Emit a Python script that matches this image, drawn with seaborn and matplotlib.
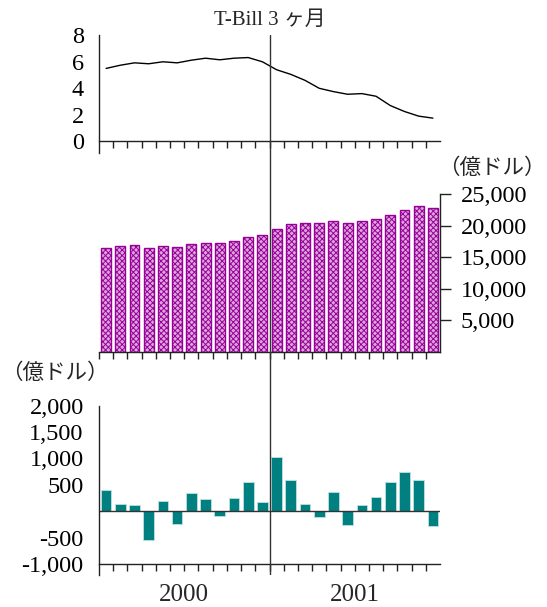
import matplotlib
matplotlib.use("Agg")
import matplotlib.pyplot as plt
from matplotlib.ticker import FixedLocator, FuncFormatter, NullLocator
import seaborn as sns
import pandas as pd

# データ（2000年1月〜2001年12月、月次）
months = [f"{y}-{m:02d}" for y in (2000, 2001) for m in range(1, 13)]
tbill = [5.48, 5.72, 5.90, 5.83, 5.98, 5.90, 6.10, 6.25, 6.13, 6.25, 6.30, 5.98,
         5.38, 5.03, 4.58, 3.98, 3.73, 3.53, 3.58, 3.38, 2.68, 2.23, 1.88, 1.73]
level = [16500, 16770, 16930, 16460, 16770, 16560, 17040, 17250, 17250, 17560, 18200, 18460,
         19520, 20250, 20410, 20410, 20730, 20460, 20730, 21040, 21680, 22420, 23100, 22840]
change = [410, 145, 126, -549, 189, -240, 347, 233, -95, 259, 555, 170,
          1034, 593, 139, -113, 359, -252, 113, 277, 549, 744, 599, -271]
years = ["2000", "2001"]
top_ticks = [0, 2, 4, 6, 8]
mid_ticks = [5000, 10000, 15000, 20000, 25000]
bot_ticks = [-1000, -500, 500, 1000, 1500, 2000]

df = pd.DataFrame({"month": months, "idx": range(len(months)),
                   "tbill": tbill, "level": level, "change": change})

sns.set_theme(style="white")
plt.rcParams["font.family"] = ["Liberation Serif", "Noto Sans CJK JP"]
plt.rcParams["axes.unicode_minus"] = False
plt.rcParams["hatch.linewidth"] = 0.7

W, H = 547, 607
fig = plt.figure(figsize=(W / 100, H / 100), dpi=100)


def box(l, t, r, b):
    return [l / W, 1 - b / H, (r - l) / W, (b - t) / H]


ink = "#222222"
comma = FuncFormatter(lambda v, p: f"{int(v):,}")
n = len(months)
bounds = [i - 0.5 for i in range(n)]
tick_fs = 17.5

# 上段: T-Bill 3ヶ月
ax1 = fig.add_axes(box(99, 35, 440, 153))
sns.lineplot(data=df, x="idx", y="tbill", color="black", lw=1.0, ax=ax1)
ax1.set_xlim(-0.5, n - 0.5)
ax1.set_ylim(-0.9, 8)
ax1.spines["bottom"].set_position(("data", 0))

# 中段: 残高（ハッチ付き棒）
ax2 = fig.add_axes(box(99, 194, 440, 352))
sns.barplot(data=df, x="month", y="level", color="#dba6db", edgecolor="#990099",
            hatch="xxxxxx", linewidth=1.0, width=0.7, saturation=1, ax=ax2)
ax2.set_xlim(-0.5, n - 0.5)
ax2.set_ylim(0, 25000)
ax2.yaxis.tick_right()

# 下段: 前月比変化
ax3 = fig.add_axes(box(99, 405.7, 440, 575))
sns.barplot(data=df, x="month", y="change", color="#008080", edgecolor="#bfe0e0",
            linewidth=0.6, width=0.75, saturation=1, ax=ax3)
ax3.set_xlim(-0.5, n - 0.5)
ax3.set_ylim(-1208, 2000)
ax3.spines["bottom"].set_position(("data", -1000))
ax3.axhline(0, color="#333333", lw=1.0)

for ax in (ax1, ax2, ax3):
    ax.set_xlabel("")
    ax.set_ylabel("")
    ax.set_facecolor("none")
    ax.spines["top"].set_visible(False)
    for s in ax.spines.values():
        s.set_color(ink)
        s.set_linewidth(1.0)
    ax.xaxis.set_major_locator(NullLocator())
    ax.tick_params(axis="x", which="minor", direction="out", length=5,
                   width=1.0, color=ink, bottom=True)
    ax.tick_params(axis="y", direction="out", length=8, width=1.0,
                   color=ink, labelsize=tick_fs, pad=3, labelcolor="black")

ax1.spines["right"].set_visible(False)
ax3.spines["right"].set_visible(False)
ax2.spines["left"].set_visible(False)

ax1.xaxis.set_minor_locator(FixedLocator(bounds[1:]))
ax2.xaxis.set_minor_locator(FixedLocator(bounds))
ax3.xaxis.set_minor_locator(FixedLocator(bounds[1:]))

ax1.yaxis.set_major_locator(FixedLocator(top_ticks))
ax2.yaxis.set_major_locator(FixedLocator(mid_ticks))
ax2.yaxis.set_major_formatter(comma)
ax2.tick_params(axis="y", left=False, right=True, labelleft=False, labelright=True, pad=7)
ax3.yaxis.set_major_locator(FixedLocator(bot_ticks))
ax3.yaxis.set_major_formatter(comma)

# 年ラベル
for k, yr in enumerate(years):
    ax3.text(5.5 + 12 * k, -0.12, yr, transform=ax3.get_xaxis_transform(),
             ha="center", va="center", fontsize=18)

# 年の境目の縦線（全段を貫く）
axv = fig.add_axes(box(99, 35, 440, 575))
axv.set_xlim(-0.5, n - 0.5)
axv.axvline(11.5, color="#333333", lw=1.0)
axv.axis("off")

fig.text(270 / W, 1 - 20 / H, "T-Bill 3 ヶ月", ha="center", va="center",
         fontsize=15, family=["Liberation Serif", "Noto Sans CJK JP"])
fig.text(546 / W, 1 - 168 / H, "（億ドル）", ha="right", va="center",
         fontsize=15.5, family=["Noto Sans CJK JP"])
fig.text(1 / W, 1 - 373 / H, "（億ドル）", ha="left", va="center",
         fontsize=15.5, family=["Noto Sans CJK JP"])

fig.savefig("out.png", dpi=100)
